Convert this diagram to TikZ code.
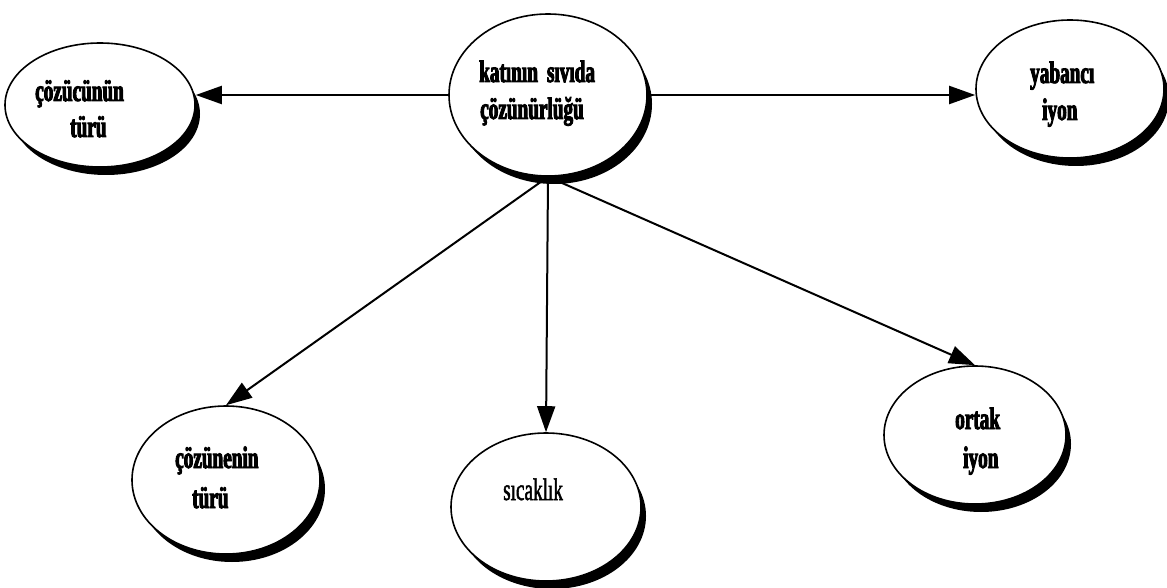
\documentclass[tikz,border=0pt]{standalone}
\usepackage{fontspec}
\usetikzlibrary{shapes.geometric,arrows.meta}
\newfontfamily\lbl[FakeStretch=0.62,BoldFont={* Bold},BoldFeatures={FakeBold=3}]{Liberation Serif}
\newfontfamily\lblmid[FakeStretch=0.62,FakeBold=1.6]{Liberation Serif}
\begin{document}
\begin{tikzpicture}[x=1pt,y=-1pt,
  bubble/.style={ellipse,draw=black,line width=1.6pt,fill=white,inner sep=0pt},
  shade/.style={ellipse,fill=black,inner sep=0pt},
  word/.style={font=\lbl\bfseries\fontsize{31}{36}\selectfont,inner sep=0pt,anchor=base west},
  thinword/.style={font=\lblmid\fontsize{31}{36}\selectfont,inner sep=0pt,anchor=base west},
  link/.style={line width=2pt,-{Triangle[length=26pt,width=18pt]}}]
\useasboundingbox (0,0) rectangle (1167,588);
\fill[white] (0,0) rectangle (1167,588);

% dark crescents under the bubbles
\node[shade,minimum width=196pt,minimum height=160pt] (ms) at (554,104) {};
\node[shade,minimum width=188pt,minimum height=122pt] (as) at (106,114) {};
\node[shade,minimum width=186pt,minimum height=136pt] (bs) at (1076,98) {};
\node[shade,minimum width=186pt,minimum height=146pt] (cs) at (232,489) {};
\node[shade,minimum width=188pt,minimum height=146pt] (ds) at (552,516) {};
\node[shade,minimum width=180pt,minimum height=136pt] (es) at (981,444) {};

% bubbles
\node[bubble,minimum width=198pt,minimum height=162pt] (m) at (548,95) {};
\node[bubble,minimum width=190pt,minimum height=124pt] (a) at (100,105) {};
\node[bubble,minimum width=188pt,minimum height=138pt] (b) at (1070,89) {};
\node[bubble,minimum width=188pt,minimum height=148pt] (c) at (226,480) {};
\node[bubble,minimum width=190pt,minimum height=148pt] (d) at (546,507) {};
\node[bubble,minimum width=182pt,minimum height=138pt] (e) at (975,435) {};

% labels
\node[word] (m1) at (479,82) {katının\hspace{9pt}sıvıda};
\node[word] (m2) at (480,119) {çözünürlüğü};
\node[word] (a1) at (35,101) {çözücünün};
\node[word] (a2) at (70,137) {türü};
\node[word] (b1) at (1030,83) {yabancı};
\node[word] (b2) at (1042,120) {iyon};
\node[word] (c1) at (175,468) {çözünenin};
\node[word] (c2) at (192,508) {türü};
\node[thinword] (d1) at (503,500) {sıcaklık};
\node[word] (e1) at (955,429) {ortak};
\node[word] (e2) at (963,468) {iyon};

% connectors
\draw[link] (m.west) -- (m.west -| a.east);
\draw[link] (m.east) -- (m.east -| b.west);
\draw[link] (m.south) -- (c.north);
\draw[link] (m.south) -- (d.north);
\draw[link] (m.south) -- (e.north);
\end{tikzpicture}
\end{document}
